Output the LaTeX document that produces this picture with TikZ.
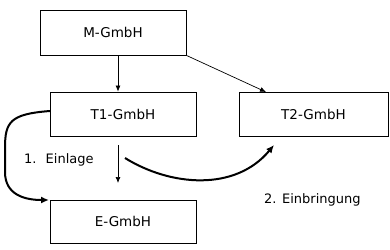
\documentclass[tikz,border=0pt]{standalone}
\usepackage{fontspec}
\setmainfont{DejaVu Sans}
\usetikzlibrary{arrows.meta}
\begin{document}
\begin{tikzpicture}[x=1pt,y=-1pt,
  box/.style={draw, line width=0.8pt, inner sep=0pt, font=\fontsize{13.5}{15}\selectfont},
  thin arrow/.style={line width=0.7pt, -{Latex[length=6pt,width=5pt]}},
  thick arrow/.style={line width=2pt, -{Latex[length=8pt,width=7pt]}},
  lbl/.style={font=\fontsize{13}{15}\selectfont, inner sep=0pt}]
\useasboundingbox (0,0) rectangle (390,249);
\node[box, minimum width=146pt, minimum height=45pt] (M) at (113,32.5) {M-GmbH};
\node[box, minimum width=146pt, minimum height=44pt] (T1) at (123,114) {T1-GmbH};
\node[box, minimum width=149pt, minimum height=44pt] (T2) at (313.5,114) {T2-GmbH};
\node[box, minimum width=146pt, minimum height=43pt] (E) at (123,221.5) {E-GmbH};
\draw[thin arrow] (M.south -| 118,0) -- (T1.north -| 118,0);
\draw[thin arrow] (M.south east) -- (266,92);
\coordinate (s1) at (118,145);
\coordinate (s2) at (118,183);
\draw[thin arrow] (s1) -- (s2);
\coordinate (c1) at (125,158);
\coordinate (c2) at (274,145);
\draw[thick arrow] (c1) .. controls (170,186) and (235,192) .. (c2);
\coordinate (t1a) at (50,111);
\coordinate (ea) at (49,200);
\draw[thick arrow] (t1a) .. controls (10,114) and (5,122) .. (5,148) -- (5,172) .. controls (5,195) and (25,200) .. (ea);
\node[lbl, anchor=west] (l1) at (24,160) {1.\hspace{0.7em}Einlage};
\node[lbl, anchor=west] (l2) at (264,200) {2. Einbringung};
\end{tikzpicture}
\end{document}
